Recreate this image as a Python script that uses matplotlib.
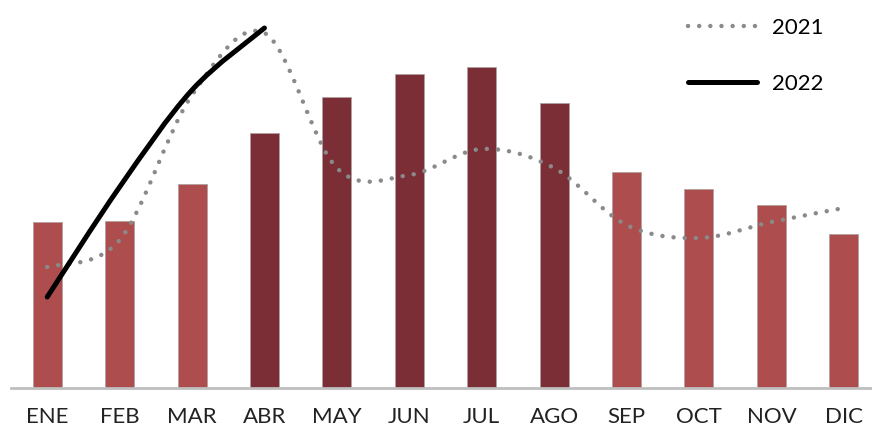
import matplotlib.pyplot as plt
import numpy as np
from matplotlib.path import Path
from matplotlib.patches import PathPatch
from matplotlib.lines import Line2D

plt.rcParams['font.family'] = ['Lato', 'DejaVu Sans']

meses = ['ENE', 'FEB', 'MAR', 'ABR', 'MAY', 'JUN', 'JUL', 'AGO', 'SEP', 'OCT', 'NOV', 'DIC']
barras = [41.5, 41.75, 51, 63.75, 72.75, 78.5, 80.25, 71.25, 54, 49.75, 45.75, 38.5]
oscuro = [False, False, False, True, True, True, True, True, False, False, False, False]
serie_2021 = [30.25, 37, 73.25, 88.75, 55, 53.25, 59.75, 55, 40.75, 37.5, 41.5, 45]
serie_2022 = [22.75, 50.25, 74.5, 90]


def smooth_path(xs, ys):
    # Excel-like smoothed line: cubic Bezier segments through the points
    pts = np.column_stack([xs, ys]).astype(float)
    n = len(pts)
    verts = [pts[0]]
    codes = [Path.MOVETO]
    for i in range(n - 1):
        p_prev = pts[i - 1] if i > 0 else pts[i]
        p_next = pts[i + 2] if i + 2 < n else pts[i + 1]
        c1 = pts[i] + (pts[i + 1] - p_prev) / 6
        c2 = pts[i + 1] - (p_next - pts[i]) / 6
        verts += [c1, c2, pts[i + 1]]
        codes += [Path.CURVE4] * 3
    return Path(verts, codes)


fig = plt.figure(figsize=(8.72, 4.32), dpi=100)
# the plot area runs a bit past the right edge, as in the original
ax = fig.add_axes([11 / 872, 44 / 432, 869 / 872, 388 / 432])

x = np.arange(len(meses))
colores = ['#7B2E35' if d else '#AE4D4D' for d in oscuro]
ax.bar(x, barras, width=0.4, color=colores, edgecolor='#B0A0A0', linewidth=0.6, zorder=2)

p21 = PathPatch(smooth_path(x, serie_2021), fill=False, edgecolor='#8A8A8A', linewidth=3.2,
                linestyle=(0, (0.01, 2.5)), capstyle='round', zorder=3)
p22 = PathPatch(smooth_path(x[:len(serie_2022)], serie_2022), fill=False, edgecolor='black',
                linewidth=3.6, capstyle='round', zorder=4)
ax.add_patch(p21)
ax.add_patch(p22)

ax.set_xlim(-0.5, 11.5)
ax.set_ylim(0, 97)
ax.set_xticks(x)
ax.set_xticklabels(meses, fontsize=16, color='#222222')
ax.tick_params(axis='x', length=0, pad=14)
ax.set_yticks([])
for s in ['top', 'right', 'left']:
    ax.spines[s].set_visible(False)
ax.spines['bottom'].set_color('#BFBFBF')
ax.spines['bottom'].set_linewidth(2)

handles = [Line2D([], [], color='#8A8A8A', linewidth=3.2, linestyle=(0, (0.01, 2.5)),
                  dash_capstyle='round'),
           Line2D([], [], color='black', linewidth=3.6, solid_capstyle='round')]
fig.legend(handles, ['2021', '2022'], loc='upper left',
           bbox_to_anchor=(688 / 872, 1 - 18 / 432), frameon=False, fontsize=16,
           handlelength=3.1, labelspacing=1.6, handletextpad=0.7, borderpad=0,
           borderaxespad=0)

fig.savefig('out.png', dpi=100)
